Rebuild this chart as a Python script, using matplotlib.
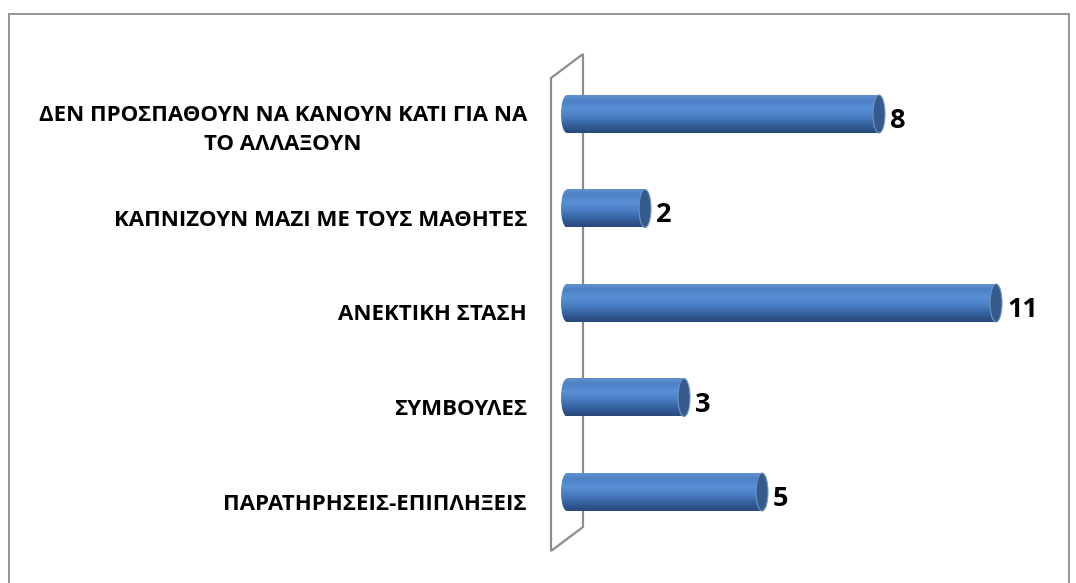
import matplotlib
matplotlib.use("Agg")
import matplotlib.pyplot as plt
import numpy as np
from matplotlib.colors import LinearSegmentedColormap
from matplotlib.patches import Ellipse, Polygon, Rectangle

categories = ["ΠΑΡΑΤΗΡΗΣΕΙΣ-ΕΠΙΠΛΗΞΕΙΣ", "ΣΥΜΒΟΥΛΕΣ", "ΑΝΕΚΤΙΚΗ ΣΤΑΣΗ",
              "ΚΑΠΝΙΖΟΥΝ ΜΑΖΙ ΜΕ ΤΟΥΣ ΜΑΘΗΤΕΣ",
              "ΔΕΝ ΠΡΟΣΠΑΘΟΥΝ ΝΑ ΚΑΝΟΥΝ ΚΑΤΙ ΓΙΑ ΝΑ\nΤΟ ΑΛΛΑΞΟΥΝ"]
values = [5, 3, 11, 2, 8]

W, H = 1076, 583
fig = plt.figure(figsize=(W / 100, H / 100), dpi=100)
ax = fig.add_axes([0, 0, 1, 1])
ax.set_axis_off()

# pixel layout -> data mapping
x0px, xscale = 567.0, 39.0
y0px, yscale = 492.0, 94.5
ax.set_xlim(-x0px / xscale, (W - x0px) / xscale)
ax.set_ylim((y0px - H) / yscale, y0px / yscale)

def dx(px):
    return (px - x0px) / xscale

def dy(py):
    return (y0px - py) / yscale

# outer border
fig.patches.append(Rectangle((9 / W, -0.1), (1069 - 9) / W, 1.1 - 14 / H,
                             transform=fig.transFigure, fill=False,
                             edgecolor="#8c8c8c", linewidth=1.3))

# wall
wall = Polygon([(dx(551), dy(78)), (dx(583), dy(54)), (dx(583), dy(527)),
                (dx(551), dy(551))], closed=True, facecolor="white",
               edgecolor="#8c8c8c", linewidth=1.6, zorder=1)
ax.add_patch(wall)

cmap = LinearSegmentedColormap.from_list("cyl", [
    (0.0, "#284877"), (0.15, "#305893"), (0.45, "#4b80c5"),
    (0.65, "#5890d6"), (0.85, "#4d81c5"), (1.0, "#6391cf")])
grad = np.linspace(0, 1, 256).reshape(-1, 1)

bh = 38 / yscale
capw = 12 / xscale
for i, (cat, v) in enumerate(zip(categories, values)):
    yc = i
    y0, y1 = yc - bh / 2, yc + bh / 2
    # body
    ax.imshow(grad, cmap=cmap, origin="lower", aspect="auto",
              extent=[0, v, y0, y1], zorder=3, interpolation="bilinear")
    # left cap
    lcap = Ellipse((0, yc), capw, bh, facecolor="none", edgecolor="none")
    ax.add_patch(lcap)
    im = ax.imshow(grad, cmap=cmap, origin="lower", aspect="auto",
                   extent=[-capw / 2, 0.01, y0, y1], zorder=3,
                   interpolation="bilinear")
    im.set_clip_path(lcap)
    # right cap
    ax.add_patch(Ellipse((v, yc), capw, bh, facecolor="#355a8c",
                         edgecolor="#6f95c6", linewidth=0.8, zorder=4))
    # value label
    ax.text(v + capw / 2 + 5 / xscale, yc - 7 / yscale, str(v),
            fontsize=19.5, fontweight="bold", family="Open Sans",
            ha="left", va="center", zorder=5)
    # category label
    ax.text(dx(527), yc - (16 if "\n" in cat else 12) / yscale, cat,
            fontsize=16, fontweight="bold",
            family="Open Sans", ha="right", va="center", linespacing=1.5,
            multialignment="center")

ax.set_xlim(-x0px / xscale, (W - x0px) / xscale)
ax.set_ylim((y0px - H) / yscale, y0px / yscale)
fig.savefig("out.png", dpi=100)
